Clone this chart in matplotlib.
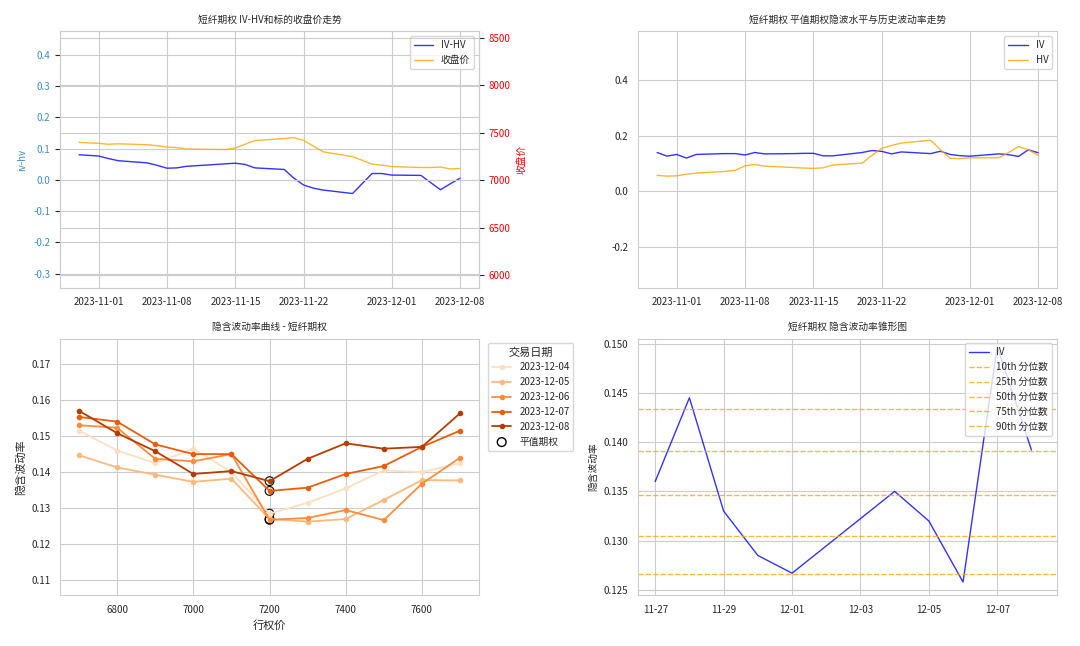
import numpy as np
import pandas as pd
import matplotlib
matplotlib.use("Agg")
import matplotlib.pyplot as plt
import matplotlib.dates as mdates
import seaborn as sns

sns.set_style("whitegrid")
plt.rcParams["font.family"] = "sans-serif"
plt.rcParams["font.sans-serif"] = ["Noto Sans CJK SC", "Noto Sans CJK JP", "Noto Sans CJK TC", "DejaVu Sans"]
plt.rcParams["axes.unicode_minus"] = False

# 交易日
dates = pd.to_datetime([
    "2023-10-30", "2023-10-31", "2023-11-01", "2023-11-02", "2023-11-03",
    "2023-11-06", "2023-11-07", "2023-11-08", "2023-11-09", "2023-11-10",
    "2023-11-13", "2023-11-14", "2023-11-15", "2023-11-16", "2023-11-17",
    "2023-11-20", "2023-11-21", "2023-11-22", "2023-11-23", "2023-11-24",
    "2023-11-27", "2023-11-28", "2023-11-29", "2023-11-30", "2023-12-01",
    "2023-12-04", "2023-12-05", "2023-12-06", "2023-12-07", "2023-12-08",
])
iv_hv = [0.080, 0.078, 0.076, 0.068, 0.061, 0.054, 0.046, 0.037, 0.038, 0.043,
         0.049, 0.051, 0.053, 0.049, 0.038, 0.033, 0.005, -0.017, -0.027, -0.033,
         -0.044, -0.012, 0.020, 0.020, 0.015, 0.014, -0.009, -0.032, -0.013, 0.005]
close = [7400, 7395, 7390, 7380, 7385, 7375, 7365, 7350, 7345, 7330,
         7325, 7325, 7340, 7380, 7420, 7440, 7450, 7420, 7360, 7300,
         7250, 7210, 7170, 7160, 7145, 7135, 7135, 7140, 7120, 7125]
iv = [0.140, 0.127, 0.133, 0.120, 0.133, 0.136, 0.136, 0.131, 0.140, 0.135,
      0.136, 0.137, 0.137, 0.128, 0.128, 0.140, 0.147, 0.144, 0.135, 0.142,
      0.136, 0.1445, 0.133, 0.1285, 0.1267, 0.135, 0.132, 0.1258, 0.1497, 0.1392]
hv = [0.058, 0.055, 0.056, 0.062, 0.066, 0.072, 0.076, 0.092, 0.097, 0.091,
      0.086, 0.084, 0.083, 0.085, 0.095, 0.102, 0.130, 0.155, 0.165, 0.174,
      0.184, 0.150, 0.119, 0.118, 0.121, 0.121, 0.140, 0.161, 0.150, 0.130]

# 波动率微笑
strikes = [6700, 6800, 6900, 7000, 7100, 7200, 7300, 7400, 7500, 7600, 7700]
smile_dates = ["2023-12-04", "2023-12-05", "2023-12-06", "2023-12-07", "2023-12-08"]
smile_iv = [
    [0.1515, 0.1460, 0.1425, 0.1465, 0.1400, 0.1285, 0.1315, 0.1355, 0.1405, 0.1400, 0.1425],
    [0.1447, 0.1413, 0.1393, 0.1373, 0.1382, 0.1270, 0.1263, 0.1270, 0.1323, 0.1378, 0.1377],
    [0.1530, 0.1523, 0.1437, 0.1430, 0.1450, 0.1268, 0.1273, 0.1295, 0.1267, 0.1368, 0.1440],
    [0.1553, 0.1540, 0.1477, 0.1450, 0.1450, 0.1348, 0.1357, 0.1395, 0.1417, 0.1470, 0.1515],
    [0.1570, 0.1508, 0.1458, 0.1395, 0.1403, 0.1375, 0.1437, 0.1480, 0.1465, 0.1470, 0.1563],
]
atm_strike = 7200

# 锥形图
cone_pct = [10, 25, 50, 75, 90]
cone_vals = [0.1266, 0.1305, 0.1346, 0.1391, 0.1434]

fig, axes = plt.subplots(2, 2, figsize=(10.8, 6.46), dpi=100)
small = 7

# 图1
ax = axes[0, 0]
l1, = ax.plot(dates, iv_hv, color="blue", alpha=0.8, lw=1, label="IV-HV")
ax.set_ylim(-0.345, 0.475)
ax.set_ylabel("iv-hv", color="#3a8fd0", fontsize=small)
ax.tick_params(axis="y", labelcolor="#3a8fd0", labelsize=small)
ax.tick_params(axis="x", labelsize=small)
ax2 = ax.twinx()
l2, = ax2.plot(dates, close, color="orange", alpha=0.8, lw=1, label="收盘价")
ax2.set_ylim(5870, 8570)
ax2.set_ylabel("收盘价", color="red", fontsize=small)
ax2.tick_params(axis="y", labelcolor="red", labelsize=small)
ax.legend(handles=[l1, l2], loc="upper right", fontsize=small)
ax.set_title("短纤期权 IV-HV和标的收盘价走势", fontsize=small)
ax.xaxis.set_major_formatter(mdates.DateFormatter("%Y-%m-%d"))

# 图2
ax = axes[0, 1]
ax.plot(dates, iv, color="blue", alpha=0.8, lw=1, label="IV")
ax.plot(dates, hv, color="orange", alpha=0.8, lw=1, label="HV")
ax.set_ylim(-0.345, 0.575)
ax.set_yticks([-0.2, 0.0, 0.2, 0.4])
ax.tick_params(labelsize=small)
ax.legend(loc="upper right", fontsize=small)
ax.set_title("短纤期权 平值期权隐波水平与历史波动率走势", fontsize=small)
ax.xaxis.set_major_formatter(mdates.DateFormatter("%Y-%m-%d"))

# 图3
ax = axes[1, 0]
colors = sns.color_palette("Oranges", 5)
for d, vals, c in zip(smile_dates, smile_iv, colors):
    ax.plot(strikes, vals, color=c, lw=1.3, marker="o", ms=3, label=d)
for vals, c in zip(smile_iv, colors):
    ax.scatter([atm_strike], [vals[strikes.index(atm_strike)]], s=40,
               facecolors="none", edgecolors="black", lw=0.8)
ax.scatter([], [], s=40, facecolors="none", edgecolors="black", label="平值期权")
ax.set_ylim(0.106, 0.177)
ax.set_xlabel("行权价", fontsize=8)
ax.set_ylabel("隐含波动率", fontsize=8)
ax.tick_params(labelsize=small)
ax.set_title("隐含波动率曲线 - 短纤期权", fontsize=small)
ax.legend(title="交易日期", bbox_to_anchor=(1.01, 1), loc="upper left",
          fontsize=small, title_fontsize=8)

# 图4
ax = axes[1, 1]
cone_dates = dates[-10:]
ax.plot(cone_dates, iv[-10:], color="blue", alpha=0.8, lw=1, label="IV")
for p, v in zip(cone_pct, cone_vals):
    ax.axhline(v, color="orange", ls="--", lw=1, alpha=0.8, label=f"{p}th 分位数")
ax.set_ylim(0.1245, 0.1505)
ax.set_yticks([0.125, 0.130, 0.135, 0.140, 0.145, 0.150])
ax.yaxis.set_major_formatter(plt.FormatStrFormatter("%.3f"))
ax.set_xticks(pd.date_range("2023-11-27", "2023-12-07", freq="2D"))
ax.set_xlim(pd.Timestamp("2023-11-26 12:00"), pd.Timestamp("2023-12-08 18:00"))
ax.xaxis.set_major_formatter(mdates.DateFormatter("%m-%d"))
ax.set_ylabel("隐含波动率", fontsize=small)
ax.tick_params(labelsize=small)
ax.set_title("短纤期权 隐含波动率锥形图", fontsize=small)
ax.legend(loc="upper right", fontsize=small)

plt.tight_layout()
fig.savefig("out.png")
